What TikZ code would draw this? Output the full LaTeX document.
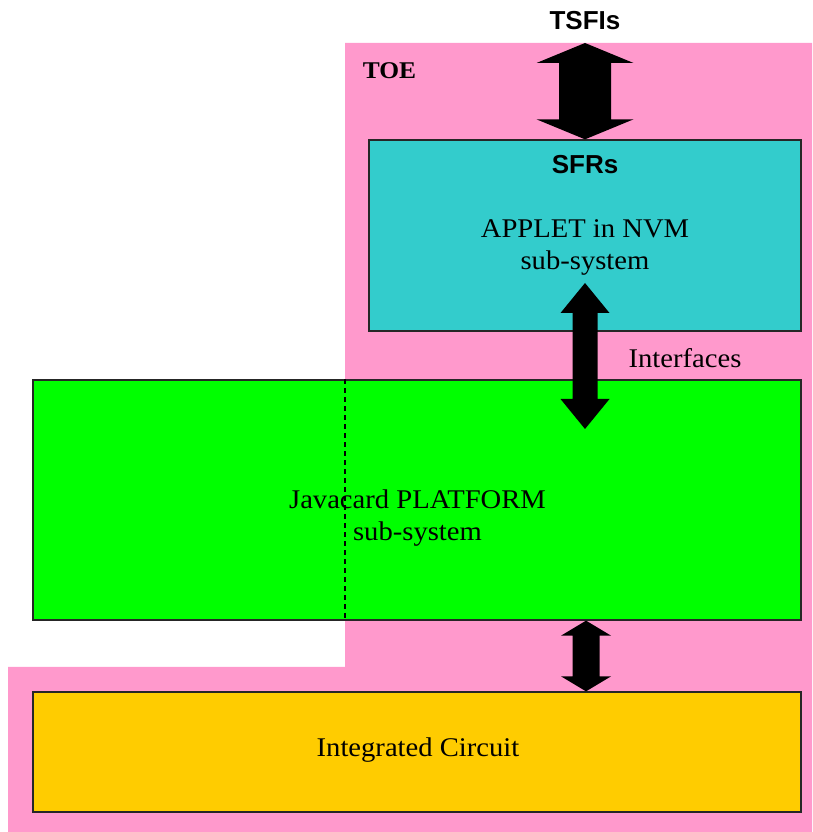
\documentclass[tikz,border=0pt]{standalone}
\usepackage{fontspec}
\setmainfont{Liberation Serif}[FakeStretch=1.06]
\setsansfont{Liberation Sans}
\usetikzlibrary{calc}
\definecolor{toepink}{HTML}{FF99CC}
\definecolor{sfrteal}{HTML}{33CCCC}
\definecolor{platgreen}{HTML}{00FF00}
\definecolor{icyellow}{HTML}{FFCC00}
\newcommand\bigdblarrow[5]{%
  \fill[black] let \p1=#1, \p2=#2 in
    (\x1,\y1) -- (\x1+#3pt,\y1-#5pt) -- (\x1+#4pt,\y1-#5pt) -- (\x1+#4pt,\y2+#5pt)
    -- (\x1+#3pt,\y2+#5pt) -- (\x1,\y2) -- (\x1-#3pt,\y2+#5pt) -- (\x1-#4pt,\y2+#5pt)
    -- (\x1-#4pt,\y1-#5pt) -- (\x1-#3pt,\y1-#5pt) -- cycle;}
\begin{document}
\begin{tikzpicture}[x=1pt,y=1pt,
  box/.style={draw=black!85,line width=1.3pt,inner sep=0pt},
  serif/.style={font=\fontsize{27}{32}\selectfont,align=center,inner sep=0pt},
  sansbold/.style={font=\fontsize{26}{31}\selectfont\sffamily\bfseries,inner sep=0pt}]
\useasboundingbox (0,0) rectangle (812,832);
% TOE region
\fill[toepink] (345,789) -- (812,789) -- (812,0) -- (8,0) -- (8,165) -- (345,165) -- cycle;
\node[font=\fontsize{24}{28}\selectfont\bfseries,inner sep=0pt] (toe) at (389.5,761) {TOE};
% boxes
\node[box,fill=sfrteal,minimum width=432,minimum height=191] (sfr) at (585,596.5) {};
\node[box,fill=platgreen,minimum width=768,minimum height=240] (plat) at (417,332) {};
\node[box,fill=icyellow,minimum width=768,minimum height=120] (ic) at (417,80) {};
\draw[line width=1.4pt,dash pattern=on 5pt off 4pt] (plat.north -| 345,0) -- (plat.south -| 345,0);
% texts
\node[sansbold] (tsfi) at (585,811) {TSFIs};
\node[sansbold] (sfrs) at (585,667) {SFRs};
\node[serif] (applet) at (585,585) {APPLET in NVM\\sub-system};
\node[serif] (platt) at (417.5,313.5) {Javacard PLATFORM\\sub-system};
\node[serif] (ict) at (418,82) {Integrated Circuit};
\node[serif] (intf) at (685,474) {Interfaces};
% arrows
\coordinate (toetop) at (585,789);
\coordinate (midtop) at (585,549);
\coordinate (midbot) at (585,403);
\bigdblarrow{(toetop)}{(sfr.north)}{48.5}{26}{20}
\bigdblarrow{(midtop)}{(midbot)}{24.5}{12.5}{30}
\bigdblarrow{($(plat.south)+(169,0)$)}{($(ic.north)+(169,0)$)}{25}{13.5}{15}
\end{tikzpicture}
\end{document}
